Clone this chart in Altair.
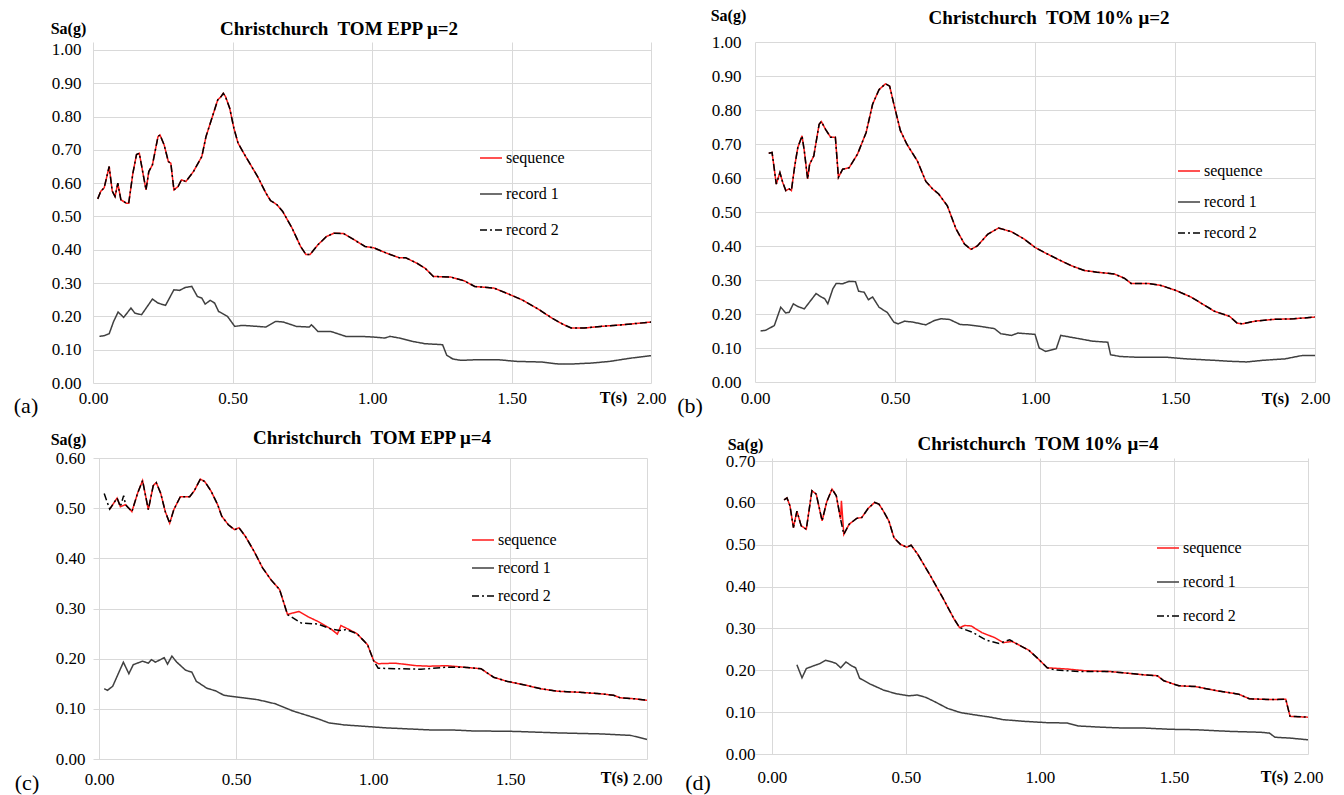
import altair as alt
import pandas as pd

FONT = "Liberation Serif, Times New Roman, serif"
SERIES = ["sequence", "record 1", "record 2"]
SERIES_COLORS = ["#ff1a1a", "#404040", "#000000"]
SERIES_DASHES = [[1, 0], [1, 0], [7, 3, 2, 3]]
TITLES = ["Christchurch\u00a0 TOM EPP \u03bc=2", "Christchurch\u00a0 TOM 10% \u03bc=2",
          "Christchurch\u00a0 TOM EPP \u03bc=4", "Christchurch\u00a0 TOM 10% \u03bc=4"]
LETTERS = ["(a)", "(b)", "(c)", "(d)"]
X_TICKS = [0.0, 0.5, 1.0, 1.5, 2.0]
Y_TICKS_10 = [0.0, 0.1, 0.2, 0.3, 0.4, 0.5, 0.6, 0.7, 0.8, 0.9, 1.0]
Y_TICKS_06 = [0.0, 0.1, 0.2, 0.3, 0.4, 0.5, 0.6]
Y_TICKS_07 = [0.0, 0.1, 0.2, 0.3, 0.4, 0.5, 0.6, 0.7]

# ---------------- panel (a) ----------------
A_SEQ_T = [0.017, 0.028, 0.04, 0.058, 0.069, 0.079, 0.089, 0.10, 0.12, 0.128,
           0.143, 0.156, 0.166, 0.19, 0.20, 0.213, 0.233, 0.24, 0.255, 0.27,
           0.279, 0.29, 0.305, 0.317, 0.333, 0.36, 0.39, 0.405, 0.428, 0.447,
           0.459, 0.467, 0.475, 0.49, 0.505, 0.52, 0.55, 0.59, 0.62, 0.636,
           0.66, 0.68, 0.713, 0.744, 0.763, 0.778, 0.806, 0.837, 0.864, 0.898,
           0.944, 0.975, 1.006, 1.052, 1.098, 1.121, 1.16, 1.19, 1.22, 1.283,
           1.33, 1.368, 1.437, 1.49, 1.537, 1.59, 1.645, 1.683, 1.714, 1.76,
           1.82, 1.90, 2.00]
A_SEQ_SA = [0.553, 0.576, 0.586, 0.65, 0.576, 0.56, 0.60, 0.55, 0.54, 0.54,
            0.63, 0.686, 0.69, 0.58, 0.635, 0.655, 0.74, 0.745, 0.715, 0.665,
            0.66, 0.58, 0.59, 0.61, 0.605, 0.635, 0.68, 0.74, 0.80, 0.85,
            0.86, 0.87, 0.86, 0.825, 0.765, 0.72, 0.676, 0.62, 0.57, 0.548,
            0.535, 0.515, 0.466, 0.41, 0.386, 0.386, 0.415, 0.44, 0.45, 0.449,
            0.426, 0.41, 0.406, 0.39, 0.376, 0.376, 0.36, 0.345, 0.32, 0.318,
            0.307, 0.29, 0.285, 0.267, 0.25, 0.225, 0.195, 0.177, 0.165, 0.165,
            0.17, 0.175, 0.183]
A_R1_T = [0.023, 0.04, 0.058, 0.074, 0.09, 0.11, 0.136, 0.15, 0.174, 0.213,
          0.233, 0.26, 0.29, 0.31, 0.331, 0.354, 0.374, 0.39, 0.402, 0.42,
          0.436, 0.45, 0.482, 0.508, 0.536, 0.59, 0.62, 0.655, 0.682, 0.729,
          0.775, 0.783, 0.806, 0.852, 0.906, 0.96, 1.006, 1.045, 1.065, 1.098,
          1.145, 1.19, 1.253, 1.268, 1.29, 1.32, 1.375, 1.452, 1.515, 1.607,
          1.668, 1.714, 1.79, 1.853, 1.93, 2.00]
A_R1_SA = [0.14, 0.142, 0.148, 0.185, 0.213, 0.197, 0.225, 0.21, 0.205, 0.252,
           0.24, 0.233, 0.28, 0.278, 0.287, 0.29, 0.26, 0.255, 0.237, 0.248,
           0.24, 0.215, 0.2, 0.17, 0.173, 0.17, 0.168, 0.185, 0.183, 0.17,
           0.168, 0.175, 0.155, 0.155, 0.14, 0.14, 0.138, 0.135, 0.14, 0.135,
           0.125, 0.118, 0.115, 0.083, 0.072, 0.068, 0.07, 0.07, 0.065, 0.063,
           0.057, 0.057, 0.06, 0.065, 0.075, 0.082]
A_R2_T = list(A_SEQ_T)
A_R2_SA = list(A_SEQ_SA)

# ---------------- panel (b) ----------------
B_SEQ_T = [0.049, 0.061, 0.076, 0.089, 0.099, 0.11, 0.122, 0.13, 0.142, 0.153,
           0.168, 0.176, 0.188, 0.195, 0.21, 0.229, 0.237, 0.252, 0.27, 0.287,
           0.298, 0.313, 0.336, 0.366, 0.397, 0.42, 0.443, 0.466, 0.481, 0.496,
           0.519, 0.542, 0.58, 0.61, 0.634, 0.656, 0.687, 0.718, 0.748, 0.771,
           0.794, 0.832, 0.87, 0.916, 0.962, 1.0, 1.038, 1.084, 1.13, 1.176,
           1.221, 1.282, 1.32, 1.343, 1.405, 1.45, 1.504, 1.557, 1.603, 1.641,
           1.695, 1.722, 1.74, 1.786, 1.847, 1.924, 2.0]
B_SEQ_SA = [0.673, 0.675, 0.582, 0.616, 0.587, 0.563, 0.568, 0.563, 0.636, 0.69,
            0.724, 0.68, 0.597, 0.64, 0.665, 0.758, 0.766, 0.743, 0.72, 0.72,
            0.602, 0.626, 0.63, 0.67, 0.734, 0.817, 0.86, 0.877, 0.87, 0.817,
            0.74, 0.70, 0.65, 0.59, 0.568, 0.553, 0.518, 0.45, 0.406, 0.39,
            0.40, 0.435, 0.453, 0.442, 0.42, 0.396, 0.379, 0.36, 0.342, 0.328,
            0.323, 0.318, 0.305, 0.29, 0.29, 0.284, 0.269, 0.25, 0.227, 0.208,
            0.193, 0.173, 0.171, 0.179, 0.184, 0.186, 0.191]
B_R1_T = [0.02, 0.038, 0.069, 0.092, 0.11, 0.122, 0.137, 0.153, 0.176, 0.218,
          0.237, 0.249, 0.26, 0.278, 0.29, 0.313, 0.336, 0.359, 0.37, 0.39,
          0.405, 0.42, 0.443, 0.473, 0.496, 0.511, 0.534, 0.565, 0.61, 0.641,
          0.664, 0.695, 0.733, 0.763, 0.809, 0.855, 0.878, 0.916, 0.939, 1.0,
          1.015, 1.038, 1.076, 1.092, 1.16, 1.206, 1.26, 1.27, 1.305, 1.359,
          1.466, 1.542, 1.634, 1.695, 1.756, 1.817, 1.893, 1.954, 2.0]
B_R1_SA = [0.15, 0.152, 0.166, 0.22, 0.203, 0.205, 0.23, 0.222, 0.215, 0.26,
           0.25, 0.245, 0.23, 0.274, 0.29, 0.289, 0.296, 0.295, 0.267, 0.264,
           0.242, 0.25, 0.22, 0.204, 0.176, 0.171, 0.179, 0.176, 0.168, 0.181,
           0.186, 0.184, 0.169, 0.168, 0.163, 0.157, 0.142, 0.137, 0.144, 0.14,
           0.1, 0.09, 0.098, 0.137, 0.127, 0.12, 0.117, 0.08, 0.075, 0.073,
           0.073, 0.068, 0.064, 0.061, 0.059, 0.064, 0.068, 0.078, 0.078]
B_R2_T = list(B_SEQ_T)
B_R2_SA = list(B_SEQ_SA)

# ---------------- panel (c) ----------------
C_SEQ_T = [0.039, 0.066, 0.078, 0.097, 0.12, 0.141, 0.159, 0.18, 0.198,
           0.209, 0.225, 0.242, 0.258, 0.273, 0.297, 0.331, 0.347, 0.37, 0.386,
           0.409, 0.433, 0.448, 0.472, 0.495, 0.511, 0.534, 0.566, 0.597, 0.628,
           0.659, 0.688, 0.706, 0.73, 0.761, 0.80, 0.847, 0.87, 0.883, 0.902,
           0.941, 0.98, 1.003, 1.019, 1.081, 1.159, 1.206, 1.269, 1.331, 1.394,
           1.44, 1.488, 1.55, 1.613, 1.675, 1.753, 1.831, 1.878, 1.902, 1.956,
           2.0]
C_SEQ_SA = [0.498, 0.52, 0.503, 0.507, 0.493, 0.53, 0.555, 0.497, 0.545,
            0.551, 0.53, 0.493, 0.47, 0.497, 0.523, 0.523, 0.534, 0.558, 0.553,
            0.534, 0.507, 0.484, 0.467, 0.457, 0.461, 0.444, 0.414, 0.381, 0.357,
            0.338, 0.288, 0.291, 0.294, 0.284, 0.274, 0.259, 0.249, 0.266, 0.261,
            0.25, 0.228, 0.195, 0.19, 0.191, 0.186, 0.185, 0.186, 0.183, 0.18,
            0.163, 0.155, 0.148, 0.14, 0.135, 0.133, 0.13, 0.127, 0.122, 0.12,
            0.117]
C_R1_T = [0.019, 0.031, 0.05, 0.089, 0.109, 0.125, 0.159, 0.18, 0.191, 0.206,
          0.238, 0.25, 0.266, 0.284, 0.316, 0.339, 0.355, 0.394, 0.425, 0.456,
          0.495, 0.527, 0.581, 0.644, 0.706, 0.753, 0.80, 0.839, 0.894, 0.972,
          1.05, 1.128, 1.206, 1.284, 1.363, 1.52, 1.675, 1.831, 1.941, 2.0]
C_R1_SA = [0.14, 0.137, 0.145, 0.193, 0.17, 0.188, 0.195, 0.191, 0.198, 0.193,
           0.202, 0.189, 0.205, 0.193, 0.177, 0.173, 0.155, 0.141, 0.136, 0.127,
           0.124, 0.122, 0.118, 0.11, 0.096, 0.088, 0.08, 0.072, 0.068, 0.065,
           0.062, 0.06, 0.058, 0.058, 0.056, 0.055, 0.052, 0.05, 0.047, 0.039]
C_R2_T = [0.019, 0.039, 0.066, 0.078, 0.09, 0.097, 0.12, 0.141, 0.159, 0.18,
          0.198, 0.209, 0.225, 0.242, 0.258, 0.273, 0.297, 0.331, 0.347, 0.37,
          0.386, 0.409, 0.433, 0.448, 0.472, 0.495, 0.511, 0.534, 0.566, 0.597,
          0.628, 0.659, 0.688, 0.738, 0.80, 0.847, 0.878, 0.902, 0.941, 0.98,
          1.003, 1.019, 1.081, 1.175, 1.269, 1.331, 1.394, 1.44, 1.488, 1.55,
          1.613, 1.675, 1.753, 1.831, 1.878, 1.902, 1.956, 2.0]
C_R2_SA = [0.529, 0.498, 0.52, 0.503, 0.525, 0.507, 0.493, 0.53, 0.555, 0.497,
           0.545, 0.551, 0.53, 0.493, 0.47, 0.497, 0.523, 0.523, 0.534, 0.558,
           0.553, 0.534, 0.507, 0.484, 0.467, 0.457, 0.461, 0.444, 0.414, 0.381,
           0.357, 0.338, 0.288, 0.271, 0.269, 0.259, 0.256, 0.258, 0.25, 0.228,
           0.195, 0.181, 0.18, 0.179, 0.183, 0.183, 0.18, 0.163, 0.155, 0.148,
           0.14, 0.135, 0.133, 0.13, 0.127, 0.122, 0.12, 0.117]

# ---------------- panel (d) ----------------
D_SEQ_T = [0.045, 0.056, 0.067, 0.08, 0.093, 0.109, 0.128, 0.149, 0.165, 0.187,
           0.204, 0.224, 0.24, 0.256, 0.259, 0.268, 0.288, 0.316, 0.335, 0.359,
           0.383, 0.399, 0.415, 0.436, 0.455, 0.479, 0.503, 0.519, 0.543, 0.591,
           0.639, 0.679, 0.70, 0.719, 0.743, 0.783, 0.831, 0.863, 0.895, 0.911,
           0.958, 0.994, 1.027, 1.102, 1.166, 1.262, 1.326, 1.39, 1.438, 1.462,
           1.518, 1.581, 1.661, 1.741, 1.781, 1.861, 1.917, 1.933, 2.0]
D_SEQ_SA = [0.607, 0.612, 0.593, 0.541, 0.58, 0.545, 0.537, 0.629, 0.621, 0.557,
            0.602, 0.633, 0.617, 0.561, 0.605, 0.525, 0.549, 0.563, 0.565, 0.587,
            0.601, 0.597, 0.581, 0.557, 0.517, 0.501, 0.494, 0.499, 0.478, 0.426,
            0.371, 0.323, 0.302, 0.307, 0.306, 0.29, 0.278, 0.266, 0.269, 0.264,
            0.248, 0.227, 0.206, 0.203, 0.199, 0.197, 0.193, 0.189, 0.187, 0.175,
            0.163, 0.161, 0.151, 0.143, 0.132, 0.13, 0.131, 0.09, 0.088]
D_R1_T = [0.093, 0.112, 0.128, 0.152, 0.179, 0.2, 0.224, 0.24, 0.256, 0.276,
          0.296, 0.312, 0.327, 0.367, 0.415, 0.463, 0.511, 0.543, 0.575, 0.607,
          0.655, 0.703, 0.751, 0.815, 0.863, 0.942, 1.022, 1.102, 1.142, 1.23,
          1.31, 1.39, 1.486, 1.581, 1.709, 1.821, 1.856, 1.877, 1.933, 2.0]
D_R1_SA = [0.213, 0.182, 0.204, 0.21, 0.216, 0.224, 0.22, 0.216, 0.206, 0.22,
           0.211, 0.206, 0.181, 0.167, 0.153, 0.144, 0.139, 0.141, 0.135, 0.125,
           0.109, 0.099, 0.094, 0.088, 0.082, 0.078, 0.075, 0.074, 0.067, 0.064,
           0.062, 0.062, 0.059, 0.058, 0.054, 0.052, 0.05, 0.04, 0.038, 0.034]
D_R2_T = [0.045, 0.056, 0.067, 0.08, 0.093, 0.109, 0.128, 0.149, 0.165, 0.187,
          0.204, 0.224, 0.24, 0.256, 0.268, 0.288, 0.316, 0.335, 0.359, 0.383,
          0.399, 0.415, 0.436, 0.455, 0.479, 0.503, 0.519, 0.543, 0.591, 0.639,
          0.679, 0.70, 0.751, 0.799, 0.847, 0.887, 0.911, 0.958, 0.994, 1.027,
          1.054, 1.15, 1.262, 1.326, 1.39, 1.438, 1.462, 1.518, 1.581, 1.661,
          1.741, 1.781, 1.861, 1.917, 1.933, 2.0]
D_R2_SA = [0.607, 0.612, 0.593, 0.541, 0.58, 0.545, 0.537, 0.629, 0.621, 0.557,
           0.602, 0.633, 0.617, 0.561, 0.525, 0.549, 0.563, 0.565, 0.587, 0.601,
           0.597, 0.581, 0.557, 0.517, 0.501, 0.494, 0.499, 0.478, 0.426, 0.371,
           0.323, 0.302, 0.29, 0.272, 0.264, 0.273, 0.264, 0.248, 0.227, 0.206,
           0.201, 0.197, 0.197, 0.193, 0.189, 0.187, 0.175, 0.163, 0.161, 0.151,
           0.143, 0.132, 0.13, 0.131, 0.09, 0.088]

# ---------------- layout (pixels, relative to each plot area) ----------------
LAYOUT = {
    "a": dict(w=558, h=341, xdom=[0, 2], ydom=[0, 1.024], tx=246, ty=-13,
              lx_=-67, ly_=364, sgx=-25, sgy=-14, tsx=520, tsy=14,
              xlp=7, ylp=12, legx=386, legy=104, rp=16),
    "b": dict(w=560, h=340, xdom=[0, 2], ydom=[0, 1.0], tx=294, ty=-24,
              lx_=-65, ly_=364, sgx=-27, sgy=-27, tsx=520, tsy=16,
              xlp=8, ylp=14, legx=422, legy=117, rp=11),
    "c": dict(w=554, h=301, xdom=[-0.0219, 2], ydom=[0, 0.6], tx=279, ty=-20,
              lx_=-66, ly_=325, sgx=-25, sgy=-19, tsx=521, tsy=18,
              xlp=12, ylp=8, legx=378, legy=70, rp=8),
    "d": dict(w=553, h=296, xdom=[-0.0634, 2], ydom=[0, 0.7072], tx=283, ty=-14,
              lx_=-57, ly_=325, sgx=-10, sgy=-14, tsx=519, tsy=22,
              xlp=15, ylp=0, legx=401, legy=78, rp=14),
}


def make_df(parts):
    frames = []
    for name, (t, s) in zip(SERIES, parts):
        frames.append(pd.DataFrame({"T": t, "Sa": s, "series": name}))
    return pd.concat(frames, ignore_index=True)


def panel(df, title, letter, yticks, L):
    xs = alt.Scale(domain=L["xdom"], nice=False, zero=False)
    ys = alt.Scale(domain=L["ydom"], nice=False, zero=False)
    xaxis = alt.Axis(values=X_TICKS, format=".2f", title="T(s)", titleX=L["tsx"],
                     titleY=L["tsy"], titleAngle=0, titleAlign="center",
                     titleBaseline="middle", labelPadding=L["xlp"], labelFlush=False)
    yaxis = alt.Axis(values=yticks, format=".2f", title="Sa(g)", titleX=L["sgx"],
                     titleY=L["sgy"], titleAngle=0, titleAlign="center",
                     titleBaseline="middle", labelPadding=L["ylp"], labelFlush=False)
    legend = alt.Legend(orient="none", legendX=L["legx"], legendY=L["legy"], title=None,
                        symbolType="stroke", symbolSize=484, symbolStrokeWidth=1.5,
                        labelFont=FONT, labelFontSize=16, labelColor="#000000",
                        labelOffset=3, rowPadding=L["rp"], padding=0)
    enc = dict(
        x=alt.X("T:Q", scale=xs, axis=xaxis),
        y=alt.Y("Sa:Q", scale=ys, axis=yaxis),
        color=alt.Color("series:N", scale=alt.Scale(domain=SERIES, range=SERIES_COLORS),
                        legend=legend),
        strokeDash=alt.StrokeDash("series:N",
                                  scale=alt.Scale(domain=SERIES, range=SERIES_DASHES),
                                  legend=legend),
    )
    layers = []
    for s in SERIES:
        layers.append(
            alt.Chart(df).transform_filter(alt.datum.series == s)
            .mark_line(strokeWidth=1.5).encode(**enc)
        )
    title_layer = alt.Chart(pd.DataFrame({"txt": [title]})).mark_text(
        font=FONT, fontSize=19, fontWeight="bold", align="center",
        baseline="middle", color="#000000"
    ).encode(text="txt:N", x=alt.value(L["tx"]), y=alt.value(L["ty"]))
    letter_layer = alt.Chart(pd.DataFrame({"txt": [letter]})).mark_text(
        font=FONT, fontSize=22, align="center", baseline="middle", color="#000000"
    ).encode(text="txt:N", x=alt.value(L["lx_"]), y=alt.value(L["ly_"]))
    return alt.layer(*layers, title_layer, letter_layer).properties(
        width=L["w"], height=L["h"])


df_a = make_df([(A_SEQ_T, A_SEQ_SA), (A_R1_T, A_R1_SA), (A_R2_T, A_R2_SA)])
df_b = make_df([(B_SEQ_T, B_SEQ_SA), (B_R1_T, B_R1_SA), (B_R2_T, B_R2_SA)])
df_c = make_df([(C_SEQ_T, C_SEQ_SA), (C_R1_T, C_R1_SA), (C_R2_T, C_R2_SA)])
df_d = make_df([(D_SEQ_T, D_SEQ_SA), (D_R1_T, D_R1_SA), (D_R2_T, D_R2_SA)])

pa = panel(df_a, TITLES[0], LETTERS[0], Y_TICKS_10, LAYOUT["a"])
pb = panel(df_b, TITLES[1], LETTERS[1], Y_TICKS_10, LAYOUT["b"])
pc = panel(df_c, TITLES[2], LETTERS[2], Y_TICKS_06, LAYOUT["c"])
pd_ = panel(df_d, TITLES[3], LETTERS[3], Y_TICKS_07, LAYOUT["d"])

chart = alt.concat(pa, pb, pc, pd_, columns=2, spacing={"row": 75, "column": 104},
                   bounds="flush")\
    .resolve_legend(color="independent", strokeDash="independent")\
    .resolve_scale(x="independent", y="independent")\
    .properties(padding={"left": 13, "top": 6, "right": 5, "bottom": 0},
                background="#ffffff")\
    .configure_view(stroke="transparent")\
    .configure_axis(grid=True, gridColor="#d9d9d9", gridWidth=1, domain=False,
                    ticks=False, tickSize=0, labelFont=FONT, labelFontSize=17,
                    labelColor="#000000", titleFont=FONT, titleFontSize=16,
                    titleFontWeight="bold", titleColor="#000000")\
    .configure_text(font=FONT)\
    .configure_legend(labelFont=FONT)

chart.save("out.html", embed_options={"renderer": "svg", "actions": False})
